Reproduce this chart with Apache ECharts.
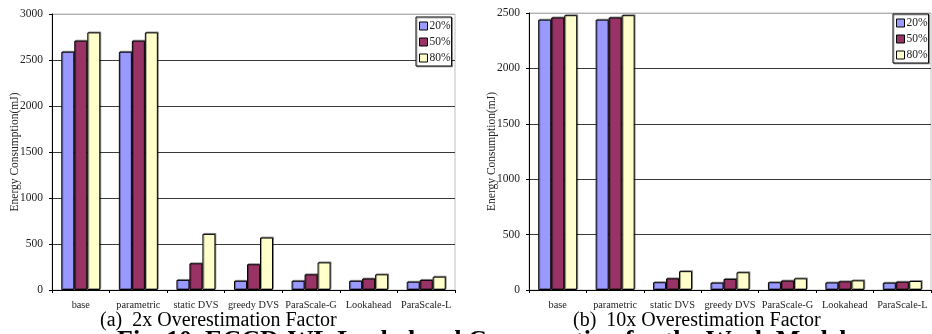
<!DOCTYPE html>
<html>
<head>
<meta charset="utf-8">
<script src="https://cdn.jsdelivr.net/npm/echarts@6/dist/echarts.min.js"></script>
<style>
html,body{margin:0;padding:0;background:#fff;}
#c{width:932px;height:334px;}
</style>
</head>
<body>
<div id="c"></div>
<script>
const categories = ['base','parametric','static DVS','greedy DVS','ParaScale-G','Lookahead','ParaScale-L'];
const seriesNames = ['20%','50%','80%'];
// Chart (a): 2x overestimation factor
const a20 = [2590, 2590, 110, 100, 100, 100, 90];
const a50 = [2710, 2710, 290, 280, 170, 125, 110];
const a80 = [2800, 2800, 610, 570, 300, 170, 145];
// Chart (b): 10x overestimation factor
const b20 = [2440, 2440, 70, 66, 70, 68, 66];
const b50 = [2460, 2460, 105, 100, 85, 78, 75];
const b80 = [2480, 2480, 170, 160, 105, 87, 81];
const aTicks = {min: 0, max: 3000, interval: 500};
const bTicks = {min: 0, max: 2500, interval: 500};
const captionA = '(a)  2x Overestimation Factor';
const captionB = '(b)  10x Overestimation Factor';
const yName = 'Energy Consumption(mJ)';
const figText = 'Fig. 10. ECCD-WL Lookahead Consumption for the Weak Model';

const colors = ['#9999FF', '#993366', '#FFFFCC'];
const serif = '"Liberation Serif", "Times New Roman", serif';

function yAxis(idx, t, n) {
  const lc = [];
  for (let i = 0; i < n; i++) lc.push(i === n - 1 ? '#b0b0b0' : '#3a3a3a');
  return {
    type: 'value', gridIndex: idx, min: t.min, max: t.max, interval: t.interval,
    name: yName, nameLocation: 'middle', nameRotate: 90, nameGap: 31, nameMoveOverlap: false,
    nameTextStyle: {fontFamily: serif, fontSize: 11.5, color: '#222'},
    axisLine: {show: true, lineStyle: {color: '#000', width: 1}},
    axisTick: {show: true, length: 3, inside: false, lineStyle: {color: '#000'}},
    axisLabel: {fontFamily: serif, fontSize: 11.5, color: '#222', margin: 9, formatter: v => String(v)},
    splitLine: {show: true, lineStyle: {color: lc, width: 1}}
  };
}
function xAxis(idx) {
  return {
    type: 'category', gridIndex: idx, data: categories,
    axisLine: {show: true, lineStyle: {color: '#000', width: 1}},
    axisTick: {show: true, length: 3, alignWithLabel: false, lineStyle: {color: '#000'}},
    axisLabel: {interval: 0, fontFamily: serif, fontSize: 10.3, color: '#222', margin: 10}
  };
}
function bar(name, data, idx, ci) {
  return {
    name: name, type: 'bar', xAxisIndex: idx, yAxisIndex: idx, data: data,
    barWidth: 13, barGap: '0%',
    itemStyle: {color: colors[ci], borderColor: '#000', borderWidth: 1,
      shadowColor: 'rgba(0,0,0,0.35)', shadowBlur: 0, shadowOffsetX: 1, shadowOffsetY: -1},
    emphasis: {disabled: true}, animation: false
  };
}
function legend(left, top) {
  return {
    orient: 'vertical', left: left, top: top, data: seriesNames,
    backgroundColor: '#fff', borderColor: '#000', borderWidth: 1,
    padding: [3, 1, 2, 3], itemWidth: 8, itemHeight: 8, itemGap: 4,
    icon: 'rect',
    itemStyle: {borderColor: '#000', borderWidth: 1, shadowBlur: 0, shadowColor: 'transparent', shadowOffsetX: 0, shadowOffsetY: 0},
    textStyle: {fontFamily: serif, fontSize: 11.5, color: '#222', lineHeight: 11, padding: [0, 0, 0, -3]},
    shadowColor: 'rgba(0,0,0,0.3)', shadowOffsetX: 1, shadowOffsetY: 1, shadowBlur: 0,
    selectedMode: false
  };
}

const chart = echarts.init(document.getElementById('c'), null, {renderer: 'canvas'});
chart.setOption({
  animation: false,
  backgroundColor: '#fff',
  grid: [
    {left: 52, top: 14, width: 403, height: 276, show: true, borderColor: '#c0c0c0', borderWidth: 1, backgroundColor: 'transparent'},
    {left: 529, top: 13, width: 402, height: 277, show: true, borderColor: '#c0c0c0', borderWidth: 1, backgroundColor: 'transparent'}
  ],
  xAxis: [xAxis(0), xAxis(1)],
  yAxis: [yAxis(0, aTicks, 7), yAxis(1, bTicks, 6)],
  legend: [legend(416, 17), legend(893, 14)],
  series: [
    bar(seriesNames[0], a20, 0, 0), bar(seriesNames[1], a50, 0, 1), bar(seriesNames[2], a80, 0, 2),
    bar(seriesNames[0], b20, 1, 0), bar(seriesNames[1], b50, 1, 1), bar(seriesNames[2], b80, 1, 2)
  ],
  graphic: [
    {type: 'text', left: 100, top: 311, style: {text: captionA, font: '20px ' + serif, fill: '#000'}},
    {type: 'text', left: 573, top: 311, style: {text: captionB, font: '20px ' + serif, fill: '#000'}},
    {type: 'text', left: 117, top: 328, style: {text: figText, font: 'bold 26px ' + serif, fill: '#000'}}
  ]
});
</script>
</body>
</html>
